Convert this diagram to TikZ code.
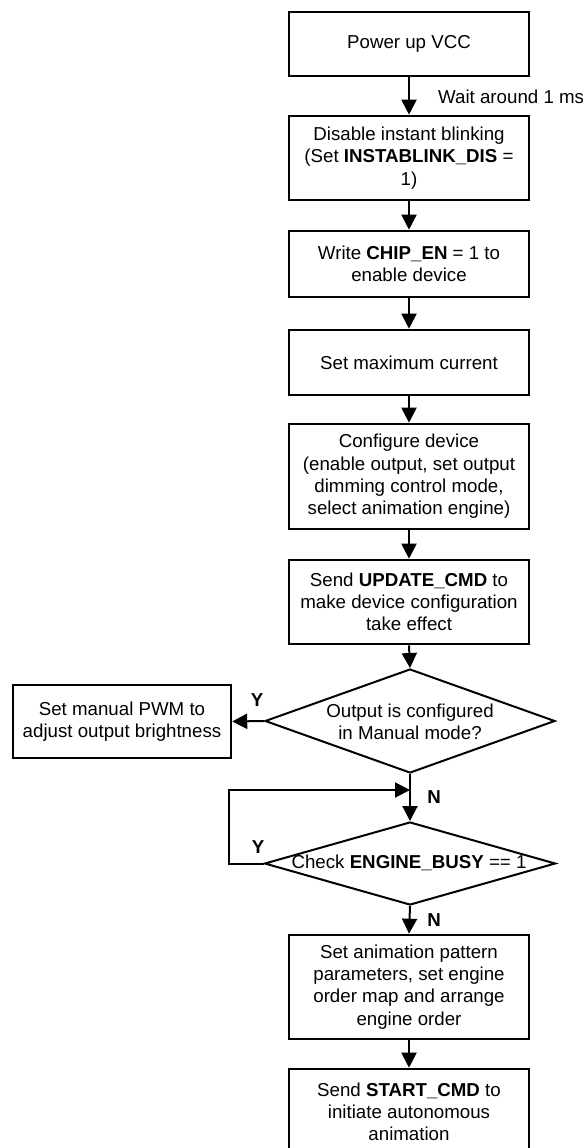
\documentclass[tikz,border=0pt]{standalone}
\usepackage{fontspec}
\setmainfont{Liberation Sans}
\usetikzlibrary{shapes.geometric,arrows.meta}
\begin{document}
\begin{tikzpicture}[x=1pt,y=-1pt,
  txt/.style={font=\fontsize{18.7}{22.3}\selectfont},
  box/.style={txt,draw,line width=2.6pt,minimum width=240pt,inner sep=0pt,align=center},
  lbox/.style={txt,draw,line width=2.4pt,minimum width=218pt,minimum height=73pt,inner sep=0pt,align=center},
  dia/.style={draw,shape=diamond,line width=2pt,inner sep=0pt},
  dtext/.style={txt,align=center,inner sep=0pt},
  yn/.style={font=\fontsize{18.7}{22.3}\selectfont\bfseries,inner sep=0pt},
  arr/.style={line width=2pt,-{Triangle[length=15pt,width=15pt]}},
  ln/.style={line width=2pt}
]
\useasboundingbox (0,0) rectangle (582,1148);
\clip (0,0) rectangle (582,1148);
\fill[white] (0,0) rectangle (582,1148);

\node[box,minimum height=64pt] (b1) at (409,44) {Power up VCC};
\node[box,minimum height=84pt] (b2) at (409,158) {Disable instant blinking\\(Set \textbf{INSTABLINK\_DIS} =\\1)};
\node[box,minimum height=66pt] (b3) at (409,264) {Write \textbf{CHIP\_EN} = 1 to\\enable device};
\node[box,minimum height=65pt] (b4) at (409,362.5) {Set maximum current};
\node[box,minimum height=105pt] (b5) at (409,476.5) {Configure device\\(enable output, set output\\dimming control mode,\\select animation engine)};
\node[box,minimum height=84pt] (b6) at (409,602) {Send \textbf{UPDATE\_CMD} to\\make device configuration\\take effect};

\node[dia,minimum width=290pt,minimum height=104pt] (d1) at (410,721) {};
\node[dtext] (d1t) at (410,722) {Output is configured\\in Manual mode?};

\node[lbox] (lb) at (122,721.5) {Set manual PWM to\\adjust output brightness};

\node[dia,minimum width=291pt,minimum height=83pt] (d2) at (410,863.5) {};
\node[dtext] (d2t) at (409,863) {Check \textbf{ENGINE\_BUSY} == 1};

\node[box,minimum height=104pt] (b7) at (409,987) {Set animation pattern\\parameters, set engine\\order map and arrange\\engine order};
\node[box,minimum height=86pt] (b8) at (409,1112) {Send \textbf{START\_CMD} to\\initiate autonomous\\animation};

\draw[arr] (b1) -- (b2);
\draw[arr] (b2) -- (b3);
\draw[arr] (b3) -- (b4);
\draw[arr] (b4) -- (b5);
\draw[arr] (b5) -- (b6);
\draw[arr] (b6.south) -- (d1.north);
\draw[arr] (d1.west) -- (lb.east);
\draw[arr] (d1.south) -- (d2.north);
\coordinate (j) at (d1.south |- 0,790);
\draw[arr] (d2.west) -- ++(-35,0) |- (j);
\draw[arr] (d2.south) -- (b7.north);
\draw[arr] (b7) -- (b8);

\node[txt,anchor=west,inner sep=0pt] (w) at (438,97) {Wait around 1 ms};
\node[yn] (y1) at (257,700) {Y};
\node[yn] (y2) at (258,847) {Y};
\node[yn] (n1) at (434,797) {N};
\node[yn] (n2) at (434,920) {N};
\end{tikzpicture}
\end{document}
